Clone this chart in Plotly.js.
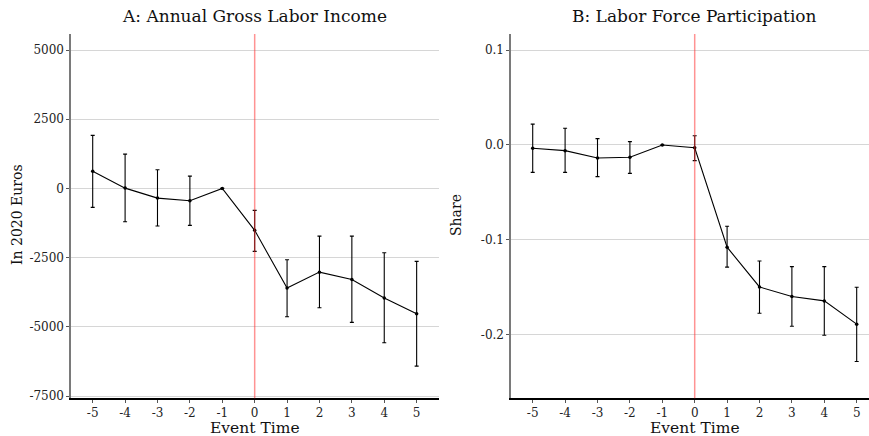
<!DOCTYPE html>
<html><head><meta charset="utf-8">
<script src="https://cdn.plot.ly/plotly-3.0.1.min.js"></script>
<style>html,body{margin:0;padding:0;background:#fff}#c{width:869px;height:436px}</style>
</head><body><div id="c"></div>
<script>
const eventTime = [-5,-4,-3,-2,-1,0,1,2,3,4,5];
const incomeEst  = [620, 10, -350, -445, 0, -1515, -3600, -3025, -3290, -3960, -4530];
const incomeHigh = [1915, 1240, 675, 445, 0, -795, -2575, -1725, -1725, -2325, -2635];
const incomeLow  = [-685, -1205, -1360, -1335, 0, -2275, -4635, -4310, -4840, -5575, -6420];
const lfpEst  = [-0.0035, -0.006, -0.0137, -0.013, 0, -0.003, -0.108, -0.150, -0.160, -0.1647, -0.1893];
const lfpHigh = [0.022, 0.0176, 0.0067, 0.0035, 0, 0.0098, -0.0859, -0.1225, -0.1285, -0.1285, -0.1503];
const lfpLow  = [-0.029, -0.029, -0.0335, -0.030, 0, -0.0166, -0.129, -0.1777, -0.1915, -0.201, -0.2288];
const xTickVals = [-5,-4,-3,-2,-1,0,1,2,3,4,5];
const xTickText = ['-5','-4','-3','-2','-1','0','1','2','3','4','5'];
const incTickVals = [5000, 2500, 0, -2500, -5000, -7500];
const incTickText = ['5000','2500','0','-2500','-5000','-7500'];
const lfpTickVals = [0.1, 0.0, -0.1, -0.2];
const lfpTickText = ['0.1','0.0','-0.1','-0.2'];

const FONT = 'DejaVu Serif, Liberation Serif, serif';
function errs(est, hi, lo){
  return {type:'data', symmetric:false,
    array: est.map((v,i)=>hi[i]-v), arrayminus: est.map((v,i)=>v-lo[i]),
    color:'#000', thickness:1.1, width:2};
}
const traces = [
  {x:eventTime, y:incomeEst, xaxis:'x', yaxis:'y', type:'scatter', mode:'lines+markers',
   line:{color:'#000', width:1.1}, marker:{color:'#000', size:3.5},
   error_y: errs(incomeEst, incomeHigh, incomeLow), showlegend:false, hoverinfo:'skip'},
  {x:eventTime, y:lfpEst, xaxis:'x2', yaxis:'y2', type:'scatter', mode:'lines+markers',
   line:{color:'#000', width:1.1}, marker:{color:'#000', size:3.5},
   error_y: errs(lfpEst, lfpHigh, lfpLow), showlegend:false, hoverinfo:'skip'}
];
const yd = [1-398.3/436, 1-34/436];
const xcommon = {tickvals:xTickVals, ticktext:xTickText, showgrid:false, zeroline:false,
  showline:true, linecolor:'#000', linewidth:1.2, ticks:'outside', ticklen:3, tickcolor:'#555',
  tickfont:{family:FONT, size:12, color:'#222'}, fixedrange:true};
const ycommon = {showgrid:true, gridcolor:'#d6d6d6', gridwidth:1, zeroline:false,
  showline:true, linecolor:'#7a7a7a', linewidth:1.6, ticks:'outside', ticklen:3, tickcolor:'#555',
  tickfont:{family:FONT, size:12, color:'#222'}};
const layout = {
  width:869, height:436, margin:{l:0,r:0,t:0,b:0}, paper_bgcolor:'#fff', plot_bgcolor:'#fff',
  showlegend:false,
  xaxis: Object.assign({}, xcommon, {domain:[71/869, 439/869], range:[-5.67,5.69], anchor:'y'}),
  xaxis2: Object.assign({}, xcommon, {domain:[511/869, 1], range:[-5.67,5.38], anchor:'y2'}),
  yaxis: Object.assign({}, ycommon, {domain:yd, range:[-7583,5578], tickvals:incTickVals, ticktext:incTickText, anchor:'x'}),
  yaxis2: Object.assign({}, ycommon, {domain:yd, range:[-0.2676,0.1172], tickvals:lfpTickVals, ticktext:lfpTickText, anchor:'x2'}),
  shapes:[
    {type:'line', xref:'x', yref:'y domain', x0:0, x1:0, y0:0, y1:1, layer:'above', line:{color:'rgba(255,40,40,0.5)', width:1.5}},
    {type:'line', xref:'x2', yref:'y2 domain', x0:0, x1:0, y0:0, y1:1, layer:'above', line:{color:'rgba(255,40,40,0.5)', width:1.5}}
  ],
  annotations:[
    {text:'A: Annual Gross Labor Income', xref:'paper', yref:'paper', x:254.5/869 , y:1-16/436, showarrow:false, xanchor:'center', yanchor:'middle', font:{family:FONT, size:17, color:'#111'}},
    {text:'B: Labor Force Participation', xref:'paper', yref:'paper', x:694/869, y:1-16/436, showarrow:false, xanchor:'center', yanchor:'middle', font:{family:FONT, size:17, color:'#111'}},
    {text:'Event Time', xref:'paper', yref:'paper', x:255/869, y:1-428/436, showarrow:false, xanchor:'center', yanchor:'middle', font:{family:FONT, size:15.5, color:'#111'}},
    {text:'Event Time', xref:'paper', yref:'paper', x:695/869, y:1-428/436, showarrow:false, xanchor:'center', yanchor:'middle', font:{family:FONT, size:15.5, color:'#111'}},
    {text:'In 2020 Euros', xref:'paper', yref:'paper', x:17/869, y:1-215/436, showarrow:false, textangle:-90, xanchor:'center', yanchor:'middle', font:{family:FONT, size:14, color:'#111'}},
    {text:'Share', xref:'paper', yref:'paper', x:456/869, y:1-215/436, showarrow:false, textangle:-90, xanchor:'center', yanchor:'middle', font:{family:FONT, size:14, color:'#111'}}
  ]
};
Plotly.newPlot('c', traces, layout, {staticPlot:true, displayModeBar:false});
</script></body></html>
